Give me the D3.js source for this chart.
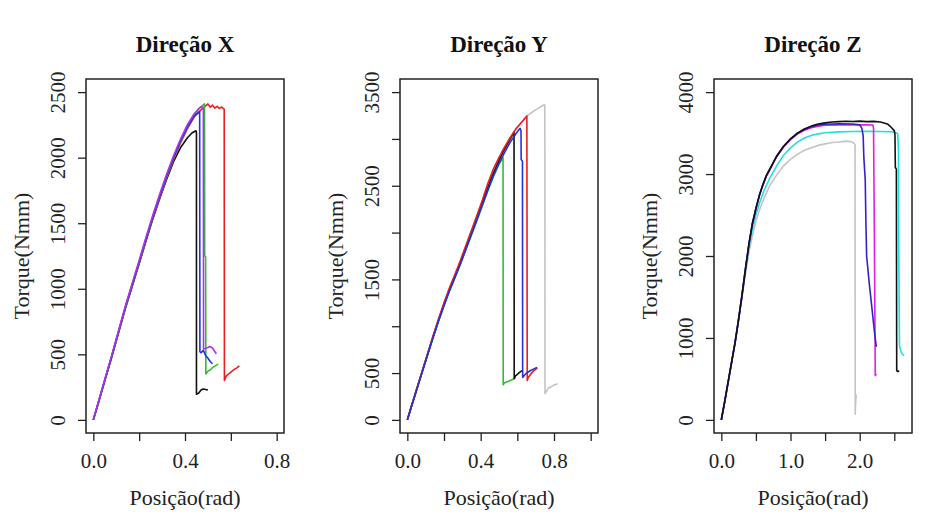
<!DOCTYPE html>
<html>
<head>
<meta charset="utf-8">
<script src="https://cdn.jsdelivr.net/npm/d3@7"></script>
<style>
  body { margin: 0; background: #fff; }
  svg { display: block; font-family: "Liberation Serif", "Times New Roman", serif; }
  .tick text { font-family: "Liberation Serif", "Times New Roman", serif; font-size: 21px; fill: #222; }
</style>
</head>
<body>
<svg width="936" height="522"></svg>
<script>
// panel setup
const panelTitles = ["Direção X", "Direção Y", "Direção Z"];
const xLimits = [[0, 0.8], [0, 1], [0, 2.65]];
const yLimits = [[0, 2500], [0, 3500], [0, 4000]];
const xTickValues = [[0, 0.2, 0.4, 0.6, 0.8], [0, 0.2, 0.4, 0.6, 0.8, 1.0], [0, 0.5, 1, 1.5, 2, 2.5]];
const xTickLabels = [["0.0", "", "0.4", "", "0.8"], ["0.0", "", "0.4", "", "0.8", ""], ["0.0", "", "1.0", "", "2.0", ""]];
const yTickValues = [[0, 500, 1000, 1500, 2000, 2500], [0, 500, 1000, 1500, 2000, 2500, 3000, 3500], [0, 1000, 2000, 3000, 4000]];
const yTickLabels = [["0", "500", "1000", "1500", "2000", "2500"], ["0", "500", "", "1500", "", "2500", "", "3500"], ["0", "1000", "2000", "3000", "4000"]];

// Direção X  [posição, torque]
const dirX_black = [[0,0],[0.02,118],[0.05,298],[0.08,478],[0.11,665],[0.14,852],[0.17,1022],[0.2,1192],[0.23,1366],[0.26,1535],[0.29,1690],[0.32,1835],[0.35,1970],[0.38,2075],[0.41,2150],[0.43,2188],[0.448,2205],[0.45,2190],[0.45,195],[0.46,205],[0.47,228],[0.48,236],[0.49,232],[0.5,228]];
const dirX_red = [[0,0],[0.02,120],[0.05,300],[0.08,480],[0.11,668],[0.14,855],[0.17,1025],[0.2,1195],[0.23,1370],[0.26,1540],[0.29,1695],[0.32,1845],[0.35,1985],[0.38,2110],[0.41,2220],[0.44,2310],[0.47,2365],[0.49,2395],[0.5,2410],[0.51,2385],[0.52,2400],[0.53,2378],[0.54,2392],[0.55,2376],[0.56,2386],[0.571,2370],[0.572,300],[0.58,335],[0.59,350],[0.6,365],[0.615,385],[0.625,395],[0.637,412]];
const dirX_green = [[0,0],[0.02,120],[0.05,302],[0.08,482],[0.11,670],[0.14,858],[0.17,1030],[0.2,1200],[0.23,1378],[0.26,1548],[0.29,1705],[0.32,1855],[0.35,1995],[0.38,2120],[0.41,2232],[0.44,2325],[0.46,2375],[0.485,2410],[0.486,1250],[0.49,1245],[0.491,350],[0.5,372],[0.51,380],[0.52,398],[0.53,410],[0.545,425]];
const dirX_blue = [[0,0],[0.02,122],[0.05,305],[0.08,485],[0.11,675],[0.14,862],[0.17,1035],[0.2,1205],[0.23,1382],[0.26,1552],[0.29,1710],[0.32,1860],[0.35,2000],[0.38,2125],[0.41,2235],[0.44,2318],[0.464,2352],[0.465,520],[0.47,512],[0.48,530],[0.49,492],[0.5,470],[0.51,445],[0.52,428]];
const dirX_magenta = [[0,0],[0.02,125],[0.05,310],[0.08,492],[0.11,682],[0.14,870],[0.17,1045],[0.2,1218],[0.23,1395],[0.26,1565],[0.29,1725],[0.32,1875],[0.35,2015],[0.38,2140],[0.41,2250],[0.44,2335],[0.46,2372],[0.47,2388],[0.48,2380],[0.481,540],[0.49,545],[0.5,553],[0.51,560],[0.52,548],[0.53,522],[0.537,505]];

// Direção Y
const dirY_grey = [[0,0],[0.05,325],[0.11,705],[0.17,1075],[0.23,1405],[0.29,1700],[0.35,2020],[0.41,2340],[0.47,2685],[0.53,2915],[0.59,3105],[0.655,3250],[0.7,3310],[0.747,3365],[0.75,3360],[0.751,280],[0.76,310],[0.77,340],[0.79,360],[0.8,372],[0.82,385]];
const dirY_green = [[0,0],[0.02,128],[0.05,318],[0.08,505],[0.11,692],[0.14,878],[0.17,1055],[0.2,1222],[0.23,1380],[0.26,1520],[0.29,1665],[0.32,1820],[0.35,1975],[0.38,2130],[0.41,2290],[0.44,2450],[0.47,2600],[0.5,2730],[0.522,2802],[0.523,375],[0.53,395],[0.54,405],[0.55,410],[0.56,420],[0.575,432],[0.588,450]];
const dirY_black = [[0,0],[0.02,130],[0.05,320],[0.08,508],[0.11,698],[0.14,885],[0.17,1065],[0.2,1235],[0.23,1395],[0.26,1535],[0.29,1685],[0.32,1845],[0.35,2005],[0.38,2165],[0.41,2325],[0.44,2485],[0.47,2635],[0.5,2770],[0.53,2890],[0.56,2995],[0.582,3070],[0.583,440],[0.59,470],[0.6,485],[0.61,505],[0.625,526]];
const dirY_red = [[0,0],[0.02,132],[0.05,325],[0.08,515],[0.11,705],[0.14,895],[0.17,1078],[0.2,1250],[0.23,1410],[0.26,1555],[0.29,1705],[0.32,1865],[0.35,2025],[0.38,2185],[0.41,2350],[0.44,2530],[0.47,2680],[0.5,2800],[0.53,2910],[0.56,3010],[0.59,3100],[0.62,3170],[0.652,3246],[0.654,420],[0.66,455],[0.67,480],[0.68,505],[0.69,525],[0.7,540],[0.709,558]];
const dirY_blue = [[0,0],[0.02,126],[0.05,315],[0.08,502],[0.11,690],[0.14,875],[0.17,1052],[0.2,1220],[0.23,1378],[0.26,1520],[0.29,1668],[0.32,1825],[0.35,1982],[0.38,2140],[0.41,2300],[0.44,2460],[0.47,2610],[0.5,2740],[0.53,2855],[0.56,2960],[0.59,3050],[0.615,3113],[0.62,3090],[0.621,2780],[0.628,2760],[0.629,454],[0.64,480],[0.65,500],[0.67,525],[0.69,545],[0.707,561]];

// Direção Z
const dirZ_grey = [[0,0],[0.05,228],[0.1,468],[0.15,705],[0.2,945],[0.25,1220],[0.3,1500],[0.35,1790],[0.4,2050],[0.45,2250],[0.5,2420],[0.55,2560],[0.6,2670],[0.7,2860],[0.8,2990],[0.9,3100],[1.0,3180],[1.1,3240],[1.2,3290],[1.3,3322],[1.4,3350],[1.5,3368],[1.6,3385],[1.7,3392],[1.8,3402],[1.87,3398],[1.91,3380],[1.933,3360],[1.935,70],[1.94,200],[1.95,310]];
const dirZ_cyan = [[0,0],[0.05,229],[0.1,469],[0.15,708],[0.2,948],[0.25,1225],[0.3,1515],[0.35,1815],[0.4,2100],[0.45,2330],[0.5,2500],[0.55,2640],[0.6,2760],[0.65,2860],[0.7,2950],[0.8,3100],[0.9,3230],[1.0,3320],[1.1,3390],[1.2,3440],[1.3,3470],[1.4,3490],[1.5,3505],[1.7,3515],[1.9,3520],[2.1,3522],[2.3,3520],[2.5,3515],[2.55,3490],[2.56,3300],[2.565,2000],[2.575,900],[2.6,825],[2.63,790],[2.645,785]];
const dirZ_magenta = [[0,0],[0.05,230],[0.1,470],[0.15,712],[0.2,952],[0.25,1232],[0.3,1532],[0.35,1852],[0.4,2150],[0.45,2395],[0.5,2575],[0.55,2735],[0.6,2862],[0.65,2972],[0.7,3052],[0.8,3212],[0.9,3330],[1.0,3420],[1.1,3488],[1.2,3535],[1.3,3565],[1.4,3585],[1.5,3595],[1.7,3600],[1.9,3602],[2.1,3600],[2.19,3598],[2.2,3560],[2.21,2500],[2.22,1200],[2.225,540],[2.24,560]];
const dirZ_blue = [[0,0],[0.05,230],[0.1,470],[0.15,711],[0.2,951],[0.25,1231],[0.3,1531],[0.35,1851],[0.4,2152],[0.45,2400],[0.5,2580],[0.55,2740],[0.6,2868],[0.65,2978],[0.7,3058],[0.8,3218],[0.9,3338],[1.0,3428],[1.1,3496],[1.2,3545],[1.3,3578],[1.4,3598],[1.5,3608],[1.7,3612],[1.9,3610],[2.0,3600],[2.03,3560],[2.05,3470],[2.06,3200],[2.08,2930],[2.09,2400],[2.1,2000],[2.14,1650],[2.18,1340],[2.21,1100],[2.24,890]];
const dirZ_black = [[0,0],[0.05,230],[0.1,470],[0.15,710],[0.2,950],[0.25,1230],[0.3,1530],[0.35,1850],[0.4,2150],[0.45,2400],[0.5,2580],[0.55,2740],[0.6,2870],[0.65,2980],[0.7,3060],[0.8,3220],[0.9,3340],[1.0,3430],[1.1,3500],[1.2,3550],[1.3,3585],[1.4,3610],[1.5,3625],[1.6,3635],[1.7,3640],[1.8,3645],[1.9,3642],[2.0,3646],[2.1,3640],[2.2,3643],[2.3,3635],[2.4,3612],[2.45,3575],[2.5,3530],[2.51,3480],[2.515,3080],[2.53,3060],[2.535,600],[2.55,590],[2.57,600]];

const panelSeries = [
  [[dirX_black, "#111"], [dirX_red, "#ee1c1c"], [dirX_green, "#2ec02e"], [dirX_blue, "#2233dd"], [dirX_magenta, "#b030f0"]],
  [[dirY_grey, "#c4c4c4"], [dirY_green, "#2ec02e"], [dirY_black, "#111"], [dirY_red, "#ee1c1c"], [dirY_blue, "#2233dd"]],
  [[dirZ_grey, "#c4c4c4"], [dirZ_cyan, "#22e0e0"], [dirZ_magenta, "#e020e0"], [dirZ_blue, "#3322cc"], [dirZ_black, "#111"]]
];

const svg = d3.select("svg");
const boxTop = 79, boxBottom = 433, boxWidth = 198;
const boxLefts = [86, 400, 714];

// R style range: limits padded by 4%
function padded(lim) {
  const d = (lim[1] - lim[0]) * 0.04;
  return [lim[0] - d, lim[1] + d];
}

panelTitles.forEach((title, i) => {
  const left = boxLefts[i];
  const right = left + boxWidth;
  const cx = (left + right) / 2;

  const x = d3.scaleLinear().domain(padded(xLimits[i])).range([left, right]);
  const y = d3.scaleLinear().domain(padded(yLimits[i])).range([boxBottom, boxTop]);

  const g = svg.append("g");

  // curves
  const line = d3.line().x(d => x(d[0])).y(d => y(d[1]));
  panelSeries[i].forEach(([data, color]) => {
    g.append("path")
      .datum(data)
      .attr("d", line)
      .attr("fill", "none")
      .attr("stroke", color)
      .attr("stroke-width", 1.6)
      .attr("stroke-linejoin", "round");
  });

  // box
  g.append("rect")
    .attr("x", left).attr("y", boxTop)
    .attr("width", boxWidth).attr("height", boxBottom - boxTop)
    .attr("fill", "none").attr("stroke", "#222").attr("stroke-width", 1.5);

  // x axis
  const xAxisG = g.append("g")
    .attr("transform", "translate(0," + boxBottom + ")")
    .call(d3.axisBottom(x)
      .tickValues(xTickValues[i])
      .tickFormat((d, k) => xTickLabels[i][k])
      .tickSize(8)
      .tickPadding(12));
  xAxisG.select(".domain").remove();
  xAxisG.selectAll(".tick line").attr("stroke", "#222").attr("stroke-width", 1.3);

  // y axis, labels turned like R
  const yAxisG = g.append("g")
    .attr("transform", "translate(" + left + ",0)")
    .call(d3.axisLeft(y)
      .tickValues(yTickValues[i])
      .tickFormat((d, k) => yTickLabels[i][k])
      .tickSize(8));
  yAxisG.select(".domain").remove();
  yAxisG.selectAll(".tick line").attr("stroke", "#222").attr("stroke-width", 1.3);
  yAxisG.selectAll(".tick text")
    .attr("x", null).attr("dy", null)
    .attr("text-anchor", "middle")
    .attr("transform", "translate(-21,0) rotate(-90)");

  // titles
  svg.append("text")
    .attr("x", cx).attr("y", 52)
    .attr("text-anchor", "middle")
    .attr("font-weight", "bold")
    .attr("font-size", 23)
    .attr("fill", "#111")
    .text(title);

  svg.append("text")
    .attr("x", cx).attr("y", 505)
    .attr("text-anchor", "middle")
    .attr("font-size", 22)
    .attr("fill", "#222")
    .text("Posição(rad)");

  svg.append("text")
    .attr("transform", "translate(" + (left - 57) + "," + ((boxTop + boxBottom) / 2) + ") rotate(-90)")
    .attr("text-anchor", "middle")
    .attr("font-size", 22)
    .attr("fill", "#222")
    .text("Torque(Nmm)");
});
</script>
</body>
</html>
